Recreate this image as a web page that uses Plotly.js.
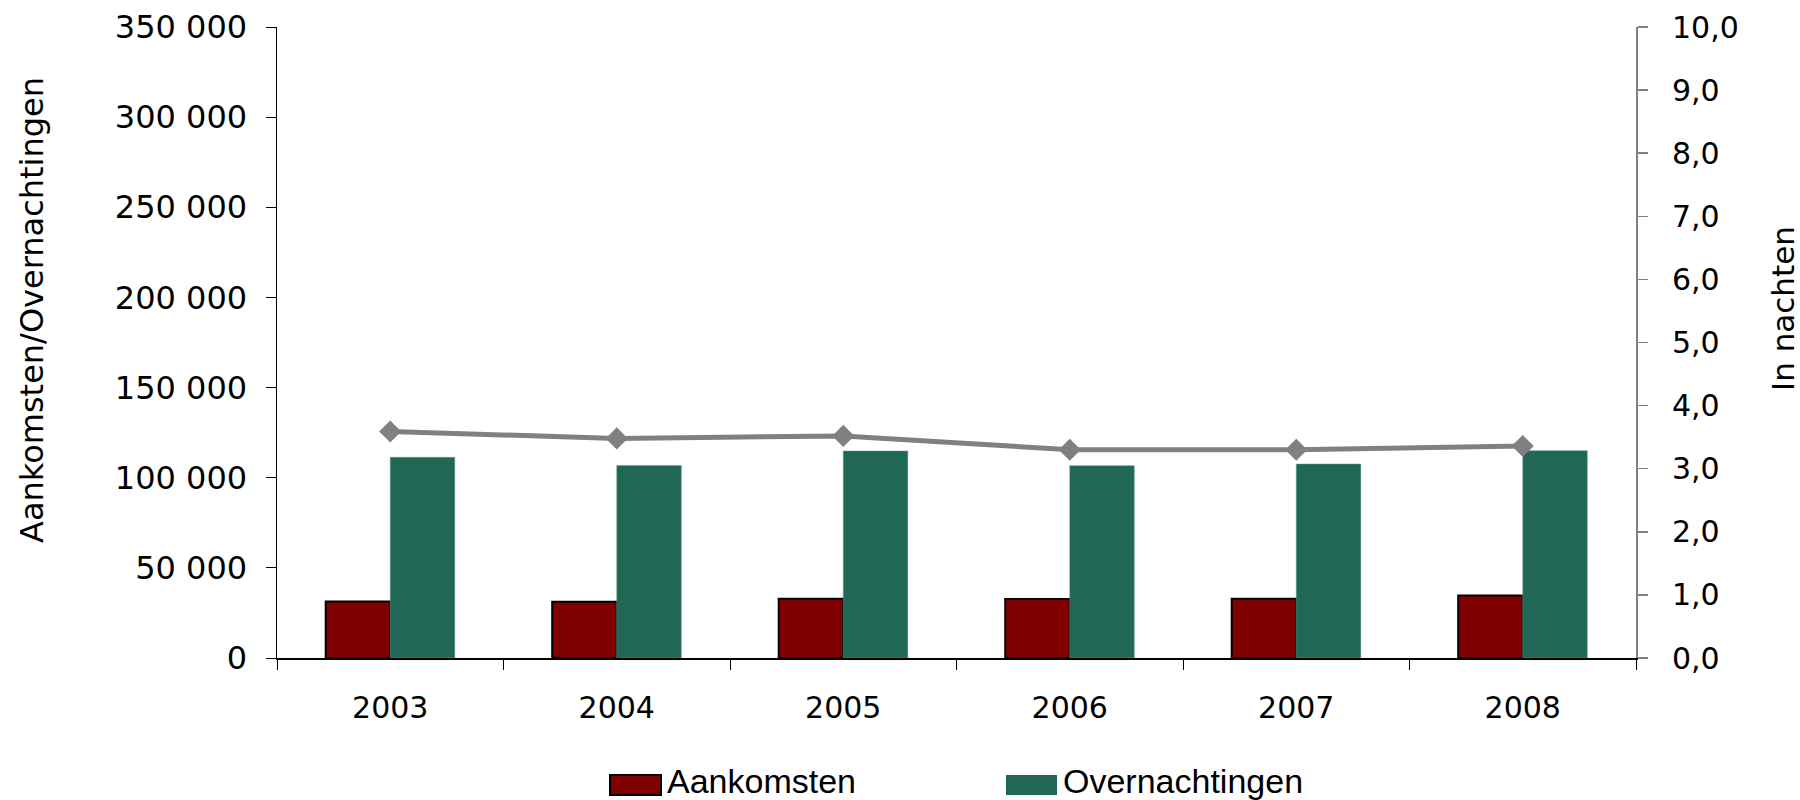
<!DOCTYPE html>
<html>
<head>
<meta charset="utf-8">
<script src="https://cdn.plot.ly/plotly-3.0.1.min.js"></script>
<style>html,body{margin:0;padding:0;background:#fff;}#chart{width:1800px;height:800px;}</style>
</head>
<body>
<div id="chart"></div>
<script>
// Data
const years = ['2003', '2004', '2005', '2006', '2007', '2008'];
const aankomsten = [31400, 31200, 32900, 32700, 32900, 34600];
const overnachtingen = [111300, 106800, 114800, 106700, 107600, 115000];
const verblijfsduur = [3.59, 3.48, 3.52, 3.30, 3.30, 3.36];
const seriesNames = ['Aankomsten', 'Overnachtingen', 'Verblijfsduur'];
const leftTitle = 'Aankomsten/Overnachtingen';
const rightTitle = 'In nachten';

const colA = '#800000';
const colO = '#216756';
const colL = '#808080';
const font = 'DejaVu Sans, Verdana, sans-serif';
const legFont = 'Liberation Sans, Arial, sans-serif';

const traces = [
  {type: 'bar', name: seriesNames[0], x: years, y: aankomsten,
   marker: {color: colA, line: {color: '#000000', width: 2}}, showlegend: false},
  {type: 'bar', name: seriesNames[1], x: years, y: overnachtingen,
   marker: {color: colO, line: {color: '#5f9c8c', width: 0.5}}, showlegend: false},
  {type: 'scatter', mode: 'lines+markers', name: seriesNames[2], x: years, y: verblijfsduur,
   yaxis: 'y2', line: {color: colL, width: 5},
   marker: {symbol: 'diamond', size: 17, color: colL}, showlegend: false}
];

const W = 1359, H = 631, L = 277, T = 27, B = 658;
const layout = {
  width: 1800, height: 800,
  margin: {l: 277, r: 164, t: 27, b: 142},
  paper_bgcolor: '#ffffff', plot_bgcolor: '#ffffff',
  separators: ', ',
  barmode: 'group', bargap: 0.43, bargroupgap: 0,
  font: {family: font, size: 30, color: '#000000'},
  xaxis: {type: 'category', showgrid: false, showline: true, linecolor: '#000000', linewidth: 1.5,
          ticks: 'outside', tickson: 'boundaries', ticklen: 10, tickcolor: '#000000', tickwidth: 1,
          ticklabelstandoff: 22, tickfont: {family: font, size: 30}, zeroline: false},
  yaxis: {range: [0, 350000], dtick: 50000, tickformat: ',d', showgrid: false, zeroline: false,
          showline: true, linecolor: '#000000', linewidth: 1.5,
          ticks: 'outside', ticklen: 10, tickcolor: '#000000', tickwidth: 1,
          ticklabelstandoff: 12, tickfont: {family: font, size: 32}},
  yaxis2: {range: [0, 10], dtick: 1, tickformat: '.1f', overlaying: 'y', side: 'right',
           showgrid: false, zeroline: false, showline: true, linecolor: colL, linewidth: 2,
           ticks: 'outside', ticklen: 10, tickcolor: colL, tickwidth: 1.5,
           ticklabelstandoff: 18, tickfont: {family: font, size: 30}},
  annotations: [
    {text: leftTitle, xref: 'paper', yref: 'paper', x: (32 - L) / W, y: 1 - (310 - T) / H,
     xanchor: 'center', yanchor: 'middle', textangle: -90, showarrow: false,
     font: {family: font, size: 32}},
    {text: rightTitle, xref: 'paper', yref: 'paper', x: 1 + (1783 - 1636) / W, y: 1 - (308 - T) / H,
     xanchor: 'center', yanchor: 'middle', textangle: -90, showarrow: false,
     font: {family: font, size: 31}},
    {text: seriesNames[0], xref: 'paper', yref: 'paper', x: (665 - L) / W, y: -(781 - B) / H,
     xanchor: 'left', yanchor: 'middle', showarrow: false,
     font: {family: legFont, size: 34}},
    {text: seriesNames[1], xref: 'paper', yref: 'paper', x: (1061 - L) / W, y: -(781 - B) / H,
     xanchor: 'left', yanchor: 'middle', showarrow: false,
     font: {family: legFont, size: 34}}
  ],
  shapes: [
    {type: 'rect', xref: 'paper', yref: 'paper',
     x0: (610 - L) / W, x1: (661 - L) / W, y0: -(795 - B) / H, y1: -(775 - B) / H,
     fillcolor: colA, line: {color: '#000000', width: 2}},
    {type: 'rect', xref: 'paper', yref: 'paper',
     x0: (1006 - L) / W, x1: (1057 - L) / W, y0: -(795 - B) / H, y1: -(775 - B) / H,
     fillcolor: colO, line: {width: 0}}
  ]
};

Plotly.newPlot('chart', traces, layout, {displayModeBar: false, staticPlot: true});
</script>
</body>
</html>
